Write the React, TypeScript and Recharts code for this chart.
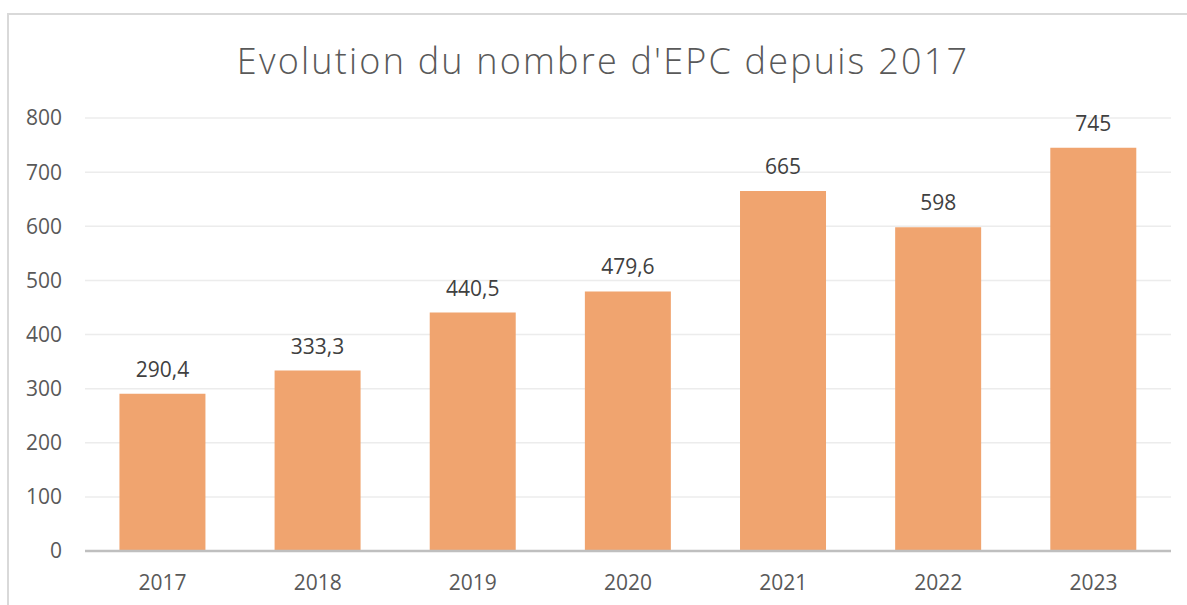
import { Bar, BarChart, CartesianGrid, LabelList, XAxis, YAxis } from "recharts";

const years = ["2017", "2018", "2019", "2020", "2021", "2022", "2023"];
const epcCounts = [290.4, 333.3, 440.5, 479.6, 665, 598, 745];
const yTicks = [0, 100, 200, 300, 400, 500, 600, 700, 800];

const data = years.map((year, i) => ({ year, value: epcCounts[i] }));

const FONT = "'Open Sans', 'DejaVu Sans', sans-serif";

const fmt = (v: any) => String(v).replace(".", ",");

export default function App() {
  return (
    <div style={{ position: "relative", width: 1187, height: 605, overflow: "hidden", background: "#fff" }}>
      <style>{"body{margin:0;overflow:hidden}"}</style>
      <div
        style={{
          position: "absolute",
          left: 7,
          top: 13,
          width: 1200,
          height: 620,
          border: "2px solid #d9d9d9",
          boxSizing: "border-box",
        }}
      />
      <svg width={1187} height={100} style={{ position: "absolute", left: 0, top: 0 }}>
        <text
          x={603}
          y={74}
          textAnchor="middle"
          fontFamily={FONT}
          fontWeight={300}
          fontSize={36}
          letterSpacing={2.2}
          fill="#595959"
        >
          Evolution du nombre d'EPC depuis 2017
        </text>
      </svg>
      <div style={{ position: "absolute", left: 0, top: 0 }}>
        <BarChart
          width={1187}
          height={605}
          data={data}
          margin={{ top: 118, right: 16, left: 0, bottom: 0 }}
          barCategoryGap="22.2%"
        >
          <CartesianGrid vertical={false} stroke="#ececec" strokeWidth={1.5} />
          <XAxis
            dataKey="year"
            height={54}
            tickLine={false}
            tickMargin={18}
            axisLine={{ stroke: "#bfbfbf", strokeWidth: 2.5 }}
            tick={{ fill: "#595959", fontSize: 21, fontFamily: FONT }}
          />
          <YAxis
            width={85}
            domain={[0, 800]}
            ticks={yTicks}
            interval={0}
            axisLine={false}
            tickLine={false}
            tickMargin={17}
            tick={{ fill: "#595959", fontSize: 21, fontFamily: FONT }}
          />
          <Bar dataKey="value" fill="#f0a46f" isAnimationActive={false}>
            <LabelList
              dataKey="value"
              position="top"
              offset={17}
              formatter={fmt}
              style={{ fill: "#404040", fontSize: 21, fontFamily: FONT }}
            />
          </Bar>
        </BarChart>
      </div>
    </div>
  );
}
